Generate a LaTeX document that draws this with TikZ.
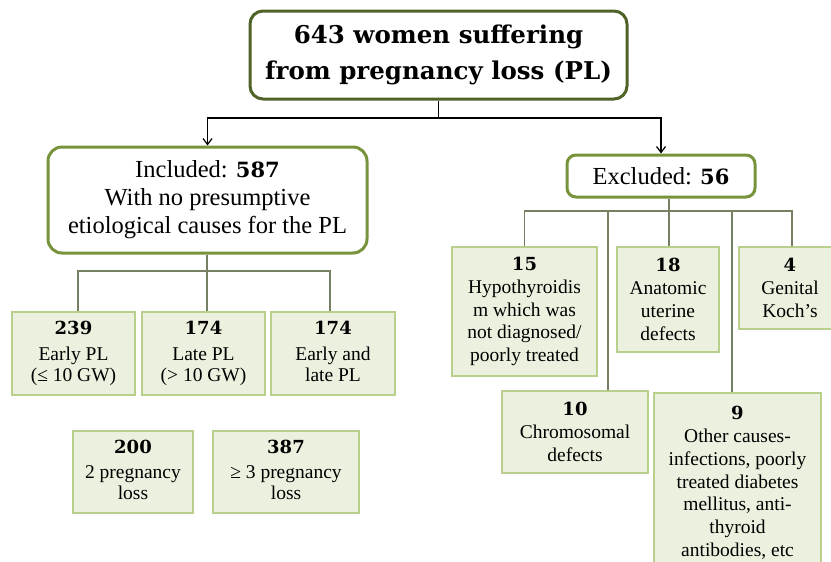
\documentclass[tikz,border=0pt]{standalone}
\usepackage{fontspec}
\setmainfont{Liberation Serif}
\newfontfamily\dvbold{DejaVu Serif}
\usetikzlibrary{arrows.meta}
\newcommand\bnum[1]{{\dvbold\bfseries #1}}
\newcommand\lastdp{\vphantom{(y)}}
\definecolor{topc}{HTML}{4F6228}
\definecolor{midc}{HTML}{77933C}
\definecolor{boxfill}{HTML}{EBF1DE}
\definecolor{boxline}{HTML}{B9CF8C}
\definecolor{connc}{RGB}{118,128,98}
\tikzset{
  topbox/.style={draw=topc, line width=3pt, rounded corners=13pt, fill=white, inner sep=0pt, align=center,
    font=\dvbold\bfseries\fontsize{24.5}{36}\selectfont},
  midbox/.style={draw=midc, line width=3pt, rounded corners=14pt, fill=white, inner sep=0pt, align=center,
    font=\fontsize{24.5}{28}\selectfont},
  cbox/.style={draw=boxline, line width=2.5pt, fill=boxfill, inner sep=0pt, align=center,
    font=\fontsize{19.5}{22.8}\selectfont},
  lbox/.style={cbox, font=\fontsize{19.5}{21.7}\selectfont},
  arr/.style={draw=black, line width=1.2pt, -{Straight Barb[length=6pt,width=9pt,line width=1.2pt]}},
  conn/.style={draw=connc, line width=1.5pt},
}
\begin{document}
\begin{tikzpicture}[x=1pt,y=1pt]
\useasboundingbox (0,0) rectangle (831,-562);
\clip (0,0) rectangle (831,-562);
\fill[white] (0,0) rectangle (831,-562);

\node[topbox, minimum width=377, minimum height=88] (top) at (438.5,-55)
  {643 women suffering\\from pregnancy loss (PL)};
\node[midbox, minimum width=319, minimum height=106] (incl) at (207.5,-200)
  {Included: \bnum{\fontsize{21}{28}\selectfont 587}\\With no presumptive\\etiological causes for the PL};
\node[midbox, rounded corners=9pt, minimum width=188, minimum height=42] (excl) at (661,-176)
  {Excluded: \bnum{\fontsize{21}{28}\selectfont 56}};

% included children
\node[lbox, minimum width=123, minimum height=83] (b239) at (73.5,-353.5)
  {\bnum{\fontsize{18}{22}\selectfont 239}\\[4pt]Early PL\\(≤ 10 GW)\lastdp};
\node[lbox, minimum width=123, minimum height=83] (b174a) at (203.5,-353.5)
  {\bnum{\fontsize{18}{22}\selectfont 174}\\[4pt]Late PL\\(> 10 GW)\lastdp};
\node[lbox, minimum width=124, minimum height=83] (b174b) at (333,-353.5)
  {\bnum{\fontsize{18}{22}\selectfont 174}\\[4pt]Early and\\late PL\lastdp};
\node[lbox, minimum width=120, minimum height=82] (b200) at (133,-472)
  {\bnum{\fontsize{18}{22}\selectfont 200}\\[3pt]2 pregnancy\\loss\lastdp};
\node[lbox, minimum width=146, minimum height=82] (b387) at (286,-472)
  {\bnum{\fontsize{18}{22}\selectfont 387}\\[3pt]≥ 3 pregnancy\\loss\lastdp};

% excluded children
\node[cbox, minimum width=145, minimum height=129] (b15) at (524.5,-311.5)
  {\bnum{\fontsize{18}{22}\selectfont 15}\\Hypothyroidis\\m which was\\not diagnosed/\\poorly treated};
\node[cbox, minimum width=102, minimum height=105] (b18) at (668,-299.5)
  {\bnum{\fontsize{18}{22}\selectfont 18}\\Anatomic\\uterine\\defects};
\node[cbox, minimum width=102, minimum height=82] (b4) at (790,-288)
  {\bnum{\fontsize{18}{22}\selectfont 4}\\Genital\\Koch’s};
\node[cbox, minimum width=146, minimum height=82] (b10) at (575,-432)
  {\bnum{\fontsize{18}{22}\selectfont 10}\\Chromosomal\\defects};
\node[cbox, minimum width=167, minimum height=180] (b9) at (737.5,-483)
  {\bnum{\fontsize{18}{22}\selectfont 9}\\Other causes-\\infections, poorly\\treated diabetes\\mellitus, anti-\\thyroid\\antibodies, etc};

% top arrows
\coordinate (tj) at (438.5,-118);
\draw[line width=1.2pt] (top.south) -- (tj);
\draw[arr] (tj) -| (incl.north);
\draw[arr] (tj) -| (excl.north);

% included connectors
\coordinate (ih) at (207,-271);
\draw[conn] (incl.south -| ih) -- (ih);
\draw[conn] ([xshift=4.5]b239.north) |- (ih) -| ([xshift=-3]b174b.north);
\draw[conn] (ih) -- (b174a.north -| ih);

% excluded connectors
\coordinate (eh) at (669,-211);
\draw[conn] (excl.south -| eh) -- (eh);
\draw[conn] (b15.north) |- (eh) -| ([xshift=2]b4.north);
\draw[conn] (eh) -- (b18.north -| eh);
\draw[conn] (b10.north -| 608,0) -- (608,-211);
\draw[conn] (b9.north -| 732,0) -- (732,-211);
\end{tikzpicture}
\end{document}
